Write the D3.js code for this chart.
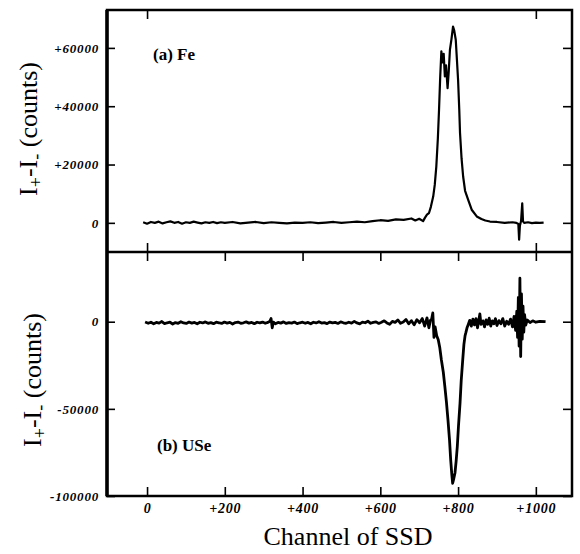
<!DOCTYPE html>
<html>
<head>
<meta charset="utf-8">
<script src="https://cdn.jsdelivr.net/npm/d3@7"></script>
<style>
  body { margin: 0; background: #fff; }
  .tick text { font-family: "Liberation Serif", "Times New Roman", "DejaVu Serif", serif; font-weight: bold; font-style: italic; }
  .domain { display: none; }
</style>
</head>
<body>
<div id="chart"></div>
<script>
"use strict";

// tick values
var xTicks = [0, 200, 400, 600, 800, 1000];
var feTicks = [0, 20000, 40000, 60000];
var useTicks = [0, -50000, -100000];

// (a) Fe : [channel, I+ - I-]
var feData = [
  [-10, 200], [0, -300], [10, 300], [20, 0], [30, 400], [40, -200], [50, 200], [60, 500],
  [70, 0], [80, 300], [90, -300], [100, 200], [110, 0], [120, 400], [130, 100], [140, -200],
  [150, 200], [160, 0], [170, 300], [180, -100], [190, 200], [200, 0], [220, 300], [240, -200],
  [260, 100], [280, 300], [300, -100], [320, 200], [340, 0], [360, -200], [380, 100], [400, 0],
  [420, 200], [440, -100], [460, 100], [480, 300], [500, 0], [520, 200], [540, 400], [560, 200],
  [580, 600], [600, 900], [620, 700], [640, 1200], [660, 1000], [680, 1500], [690, 800], [700, 1400],
  [710, 600], [715, 1800], [720, 2800], [725, 3300], [730, 5500], [736, 9000], [740, 13000], [744, 19300],
  [748, 29000], [751, 38800], [754, 50000], [757, 58800], [760, 55000], [763, 58000], [766, 50200], [769, 54000],
  [773, 46200], [776, 52000], [779, 59300], [783, 63000], [787, 67300], [790, 66000], [794, 62800], [797, 56000],
  [800, 49000], [803, 39000], [805, 30800], [809, 22000], [813, 15900], [818, 11000], [826, 7900], [835, 4500],
  [848, 2200], [860, 1300], [870, 800], [882, 450], [900, 300], [920, 0], [940, 200], [950, 0],
  [955, -400], [957, -5800], [959, -1000], [962, 600], [965, 6700], [967, 500], [970, 0], [980, 200],
  [990, -100], [1000, 100], [1010, 0], [1020, 100]
];

// (b) USe : [channel, I+ - I-]
var useData = [
  [-5, -200], [3, -900], [10, -300], [17, -1200], [24, -400], [31, -800], [38, 100], [45, -1100],
  [52, -600], [59, -300], [66, -1300], [73, -500], [80, -900], [87, 0], [94, -700], [101, -1000],
  [108, -200], [115, -800], [122, -400], [129, -1200], [136, -300], [143, -700], [150, -100], [157, -900],
  [164, -500], [171, -1100], [178, -300], [185, -600], [192, -1000], [199, -200], [206, -800], [213, -400],
  [220, -1300], [227, -500], [234, -200], [241, -900], [248, -600], [255, -100], [262, -800], [269, -400],
  [276, -1100], [283, -300], [290, -700], [297, -200], [304, -900], [311, -400], [316, 300], [319, 1800],
  [322, -3500], [325, -200], [330, -1200], [337, -400], [344, -800], [351, -100], [358, -1000], [365, -500],
  [372, -800], [379, -200], [386, -1100], [393, -600], [400, -300], [407, -900], [414, -400], [421, -1200],
  [428, -300], [435, -700], [442, 0], [449, -800], [456, -500], [463, -1100], [470, -200], [477, -700],
  [484, -400], [491, -1000], [498, -100], [505, -600], [512, -900], [519, -300], [526, -800], [533, 200],
  [540, -700], [547, -1200], [554, -200], [561, -600], [568, 300], [575, -900], [582, -400], [589, -100],
  [596, -1000], [603, -300], [610, 500], [617, -700], [624, -1500], [631, 200], [638, -400], [645, 1000],
  [652, -900], [659, -200], [666, 1300], [673, -1200], [680, 600], [687, -1800], [694, 1200], [701, -600],
  [708, 1800], [714, -2500], [720, 2200], [725, -3500], [729, 800], [732, 1500], [735, 5000], [738, -9000],
  [741, -3000], [745, -8000], [749, -10300], [753, -15000], [757, -21800], [762, -29000], [766, -37200], [770, -46000],
  [774, -56300], [778, -68000], [781, -79300], [784, -88000], [786, -92700], [789, -90000], [792, -86800], [795, -80000],
  [798, -71600], [801, -60000], [805, -46700], [808, -34000], [812, -21800], [815, -13000], [818, -8000], [820, -6300],
  [823, -3500], [826, -1700], [830, 800], [834, -2500], [838, 1500], [842, -1800], [846, 1800], [850, -3500],
  [853, 500], [856, 4500], [859, -1500], [864, 500], [868, -3000], [872, 1000], [876, -1500], [880, 2000],
  [884, -2500], [888, 500], [892, -1200], [896, 1800], [900, -2200], [905, 600], [910, -1200], [915, 1800],
  [920, -2500], [925, 300], [930, -1500], [935, 1500], [940, -3000], [944, 3000], [948, -5000], [951, 6000],
  [953, -9000], [955, 14000], [957, -14000], [959, 25000], [961, -20000], [963, 16000], [965, -10000], [967, 9000],
  [969, -6000], [971, 4000], [974, -2000], [978, 1000], [985, -500], [992, 500], [1000, -300], [1010, 200],
  [1025, 0]
];

var W = 580, H = 554;
var xL = 107, xR = 572, yTop = 10, yMid = 252, yBot = 496;
var serif = "\"Liberation Serif\", \"Times New Roman\", \"DejaVu Serif\", serif";

var svg = d3.select("#chart").append("svg")
    .attr("width", W)
    .attr("height", H)
    .style("background", "#fff");

// scales
var x = d3.scaleLinear().domain([-103, 1093]).range([xL, xR]);
var yFe = d3.scaleLinear().domain([-10000, 73000]).range([yMid, yTop]);
var yUse = d3.scaleLinear().domain([-100000, 40000]).range([yBot, yMid]);

function signed(d) { return d > 0 ? "+" + d : "" + d; }

function styleTicks(g, size) {
    g.selectAll(".tick line").attr("stroke", "#000").attr("stroke-width", 1.6);
    g.selectAll(".tick text")
        .attr("fill", "#000")
        .style("font-size", size + "px")
        .style("letter-spacing", "0.8px");
}

// --- top panel (Fe) ---
svg.append("g").attr("transform", "translate(" + xL + ",0)")
    .call(d3.axisLeft(yFe).tickValues(feTicks).tickSize(-8).tickPadding(8).tickFormat(signed))
    .call(styleTicks, 13);

svg.append("g").attr("transform", "translate(" + xR + ",0)")
    .call(d3.axisRight(yFe).tickValues(feTicks).tickSize(-9).tickFormat(""))
    .call(styleTicks, 13);

svg.append("g").attr("transform", "translate(0," + yTop + ")")
    .call(d3.axisTop(x).tickValues([0, 1000]).tickSize(-9).tickFormat(""))
    .call(styleTicks, 13);

svg.append("g").attr("transform", "translate(0," + yMid + ")")
    .call(d3.axisBottom(x).tickValues([0, 1000]).tickSize(-9).tickFormat(""))
    .call(styleTicks, 13);

// --- bottom panel (USe) ---
svg.append("g").attr("transform", "translate(" + xL + ",0)")
    .call(d3.axisLeft(yUse).tickValues(useTicks).tickSize(-8).tickPadding(8).tickFormat(signed))
    .call(styleTicks, 13);

svg.append("g").attr("transform", "translate(" + xR + ",0)")
    .call(d3.axisRight(yUse).tickValues(useTicks).tickSize(-9).tickFormat(""))
    .call(styleTicks, 13);

svg.append("g").attr("transform", "translate(0," + yMid + ")")
    .call(d3.axisTop(x).tickValues(xTicks).tickSize(-9).tickFormat(""))
    .call(styleTicks, 13);

svg.append("g").attr("transform", "translate(0," + yBot + ")")
    .call(d3.axisBottom(x).tickValues(xTicks).tickSize(-9).tickPadding(7).tickFormat(signed))
    .call(styleTicks, 14);

// frame
svg.append("rect")
    .attr("x", xL).attr("y", yTop)
    .attr("width", xR - xL).attr("height", yBot - yTop)
    .attr("fill", "none").attr("stroke", "#000").attr("stroke-width", 2.5);
svg.append("line")
    .attr("x1", xL).attr("x2", xR).attr("y1", yMid).attr("y2", yMid)
    .attr("stroke", "#000").attr("stroke-width", 2.5);
svg.append("line")
    .attr("x1", xL).attr("x2", xL).attr("y1", yTop).attr("y2", yBot)
    .attr("stroke", "#000").attr("stroke-width", 3.5);

// traces
var lineFe = d3.line()
    .x(function(d) { return x(d[0]); })
    .y(function(d) { return yFe(d[1]); });
var lineUse = d3.line()
    .x(function(d) { return x(d[0]); })
    .y(function(d) { return yUse(d[1]); });

svg.append("path").datum(feData)
    .attr("d", lineFe)
    .attr("fill", "none").attr("stroke", "#000")
    .attr("stroke-width", 2.2).attr("stroke-linejoin", "round");

svg.append("path").datum(useData)
    .attr("d", lineUse)
    .attr("fill", "none").attr("stroke", "#000")
    .attr("stroke-width", 2.8).attr("stroke-linejoin", "round");

// panel labels
svg.append("text")
    .attr("x", 153).attr("y", 60)
    .style("font-family", serif).style("font-weight", "bold").style("font-size", "17px")
    .text("(a) Fe");
svg.append("text")
    .attr("x", 157).attr("y", 451)
    .style("font-family", serif).style("font-weight", "bold").style("font-size", "17px")
    .text("(b) USe");

// y axis titles
function yTitle(cx, cy) {
    var t = svg.append("text")
        .attr("transform", "translate(" + cx + "," + cy + ") rotate(-90)")
        .attr("text-anchor", "middle")
        .style("font-family", serif).style("font-size", "26px");
    t.append("tspan").text("I");
    t.append("tspan").attr("baseline-shift", "-25%").style("font-size", "18px").text("+");
    t.append("tspan").text("-I");
    t.append("tspan").attr("baseline-shift", "-25%").style("font-size", "18px").text("-");
    t.append("tspan").text(" (counts)");
}
yTitle(37, 129);
yTitle(41, 380);

// x axis title
svg.append("text")
    .attr("x", 348).attr("y", 545)
    .attr("text-anchor", "middle")
    .style("font-family", serif).style("font-size", "26px")
    .text("Channel of SSD");
</script>
</body>
</html>
